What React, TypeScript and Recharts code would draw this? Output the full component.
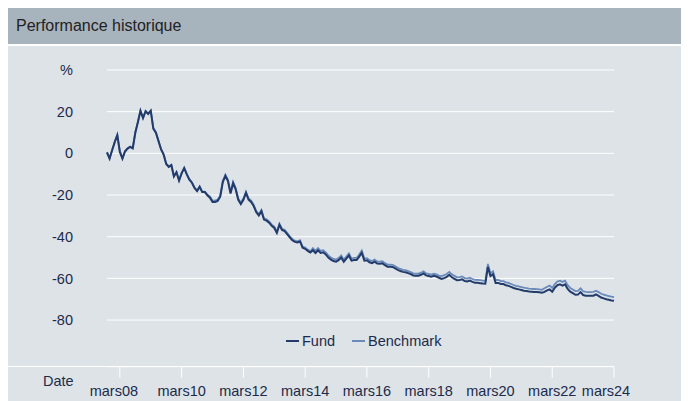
import { CartesianGrid, Legend, Line, LineChart, XAxis, YAxis } from "recharts"

// month index 0 = oct 2007, one value per month to mars 2024
const fund = [
  0.4, -2.5, 1.5, 5.4, 8.7, 0.7, -2.5, 0.9, 2.3, 3.1,
  2.4, 9.9, 14.9, 20.4, 16.9, 20.2, 18.9, 20.4, 11.9, 9.9,
  5.9, 1.9, -0.6, -5.1, -6.5, -5.7, -11.1, -9.1, -13.1, -9.6,
  -7.1, -10.1, -12.6, -14.1, -16.6, -18.1, -16.1, -18.6, -18.6, -20.1,
  -21.3, -23.3, -23.3, -22.8, -20.8, -13.8, -10.8, -13.3, -19.3, -14.3,
  -17.3, -22.3, -24.3, -22.3, -19.0, -22.2, -23.3, -25.3, -28.3, -29.8,
  -27.8, -31.8, -32.3, -33.3, -34.8, -35.8, -38.2, -34.3, -36.8, -37.3,
  -38.8, -40.3, -41.7, -42.5, -42.8, -42.3, -45.3, -45.8, -46.8, -47.6,
  -46.5, -47.8, -46.5, -47.8, -47.5, -48.5, -50.0, -51.0, -51.7, -52.0,
  -51.3, -50.0, -52.0, -50.5, -49.0, -51.5, -51.2, -51.2, -49.6, -47.7,
  -51.5, -51.3, -52.3, -52.7, -52.0, -52.9, -53.0, -52.8, -53.7, -54.4,
  -54.4, -54.5, -55.2, -55.9, -56.5, -56.9, -57.1, -57.5, -58.0, -58.6,
  -58.7, -58.7, -58.3, -57.6, -58.6, -58.9, -59.2, -58.8, -59.1, -59.7,
  -60.3, -59.9, -59.3, -58.3, -59.5, -60.2, -60.9, -60.8, -60.5, -61.3,
  -61.5, -61.1, -61.7, -62.1, -62.1, -62.3, -62.5, -62.6, -54.5, -58.9,
  -58.0, -62.2, -62.2, -62.7, -62.7, -63.3, -63.6, -64.1, -64.6, -65.0,
  -65.3, -65.6, -65.9, -66.1, -66.3, -66.4, -66.5, -66.6, -66.7, -66.9,
  -66.5, -65.8, -65.3, -66.4, -64.5, -63.3, -62.9, -63.5, -62.9, -65.1,
  -66.4, -67.1, -67.9, -67.8, -66.6, -68.0, -68.3, -68.4, -68.4, -68.3,
  -67.7, -68.4, -69.2, -69.6, -70.0, -70.3, -70.6, -70.8,
]

const benchmark = [
  0.6, -2.3, 1.7, 5.6, 8.9, 0.9, -2.3, 1.1, 2.5, 3.3,
  2.6, 10.1, 15.1, 20.6, 17.1, 20.4, 19.1, 20.6, 12.1, 10.1,
  6.1, 2.1, -0.4, -4.9, -6.3, -5.5, -10.9, -8.9, -12.9, -9.4,
  -6.9, -9.9, -12.4, -13.9, -16.4, -17.9, -15.9, -18.4, -18.4, -19.9,
  -20.7, -22.7, -22.7, -22.2, -20.2, -13.2, -10.2, -12.7, -18.7, -13.7,
  -16.7, -21.7, -23.7, -21.7, -18.4, -21.6, -22.7, -24.7, -27.7, -29.2,
  -27.2, -31.2, -31.7, -32.7, -34.2, -35.2, -37.6, -33.7, -36.2, -36.7,
  -38.2, -39.7, -41.1, -41.9, -42.2, -41.7, -44.7, -45.2, -46.2, -47.0,
  -45.5, -46.8, -45.5, -46.8, -46.5, -47.5, -49.0, -50.0, -50.7, -51.0,
  -50.3, -49.0, -51.0, -49.5, -48.0, -50.5, -50.2, -50.2, -48.6, -46.7,
  -50.5, -50.3, -51.3, -51.7, -51.0, -51.9, -52.0, -51.8, -52.7, -53.4,
  -53.4, -53.5, -54.2, -54.9, -55.5, -55.9, -56.1, -56.5, -57.0, -57.6,
  -57.7, -57.7, -57.3, -56.6, -57.6, -57.9, -58.2, -57.8, -58.1, -58.7,
  -58.9, -58.5, -57.9, -56.9, -58.1, -58.8, -59.5, -59.4, -59.1, -59.9,
  -60.1, -59.7, -60.3, -60.7, -60.7, -60.9, -61.1, -61.2, -53.1, -57.5,
  -56.6, -60.8, -60.8, -61.3, -61.3, -61.9, -62.2, -62.7, -63.2, -63.6,
  -63.9, -64.2, -64.5, -64.7, -64.9, -65.0, -65.1, -65.2, -65.3, -65.5,
  -64.7, -64.0, -63.5, -64.6, -62.7, -61.5, -61.1, -61.7, -61.1, -63.3,
  -64.6, -65.3, -66.1, -66.0, -64.8, -66.2, -66.5, -66.6, -66.6, -66.5,
  -65.9, -66.6, -67.4, -67.8, -68.2, -68.5, -68.8, -69.0,
]

const xTicks = [5, 29, 53, 77, 101, 125, 149, 173, 197]
const xLabels = ["mars08", "mars10", "mars12", "mars14", "mars16", "mars18", "mars20", "mars22", "mars24"]
const yTicks = [-80, -60, -40, -20, 0, 20, 40]

const data = fund.map((v, i) => ({ month: i, fund: v, benchmark: benchmark[i] }))

const FONT = '"Liberation Sans", Arial, sans-serif'
const TEXT = "#1c2b4b"
const FUND_COLOR = "#223b6b"
const BENCH_COLOR = "#6a8aba"

function XTick(props: any) {
  const { x, y, payload } = props
  const i = xTicks.indexOf(payload.value)
  const shift = i === 0 ? -6 : i === xTicks.length - 1 ? -8 : 0
  return (
    <text x={x + shift} y={y} dy="0.71em" textAnchor="middle" fill={TEXT} fontSize={14.5} fontFamily={FONT}>
      {xLabels[i]}
    </text>
  )
}

function LegendContent() {
  const icon = (color: string, ml: number) => (
    <span style={{ display: "inline-block", width: 13, height: 2, background: color, marginLeft: ml, marginRight: 3 }} />
  )
  return (
    <div style={{ display: "flex", alignItems: "center", fontFamily: FONT, fontSize: 14.5, color: TEXT, lineHeight: "18px", whiteSpace: "nowrap" }}>
      {icon(FUND_COLOR, 0)}Fund{icon(BENCH_COLOR, 17)}Benchmark
    </div>
  )
}

export default function App() {
  return (
    <div style={{ width: 681, fontFamily: FONT }}>
      <style>{"html,body{overflow:hidden}"}</style>
      <div style={{ height: 36, background: "#a7b3bd", color: "#222", fontSize: 16, lineHeight: "36px", paddingLeft: 8 }}>
        Performance historique
      </div>
      <div style={{ marginTop: 2, height: 360, background: "#dde3e7", position: "relative" }}>
        <LineChart width={681} height={355} data={data} margin={{ top: 24, right: 75, bottom: 5, left: 0 }}>
          <CartesianGrid vertical={false} stroke="#ffffff" strokeWidth={1} />
          <XAxis
            dataKey="month"
            type="number"
            domain={[0, 197]}
            ticks={xTicks}
            interval={0}
            axisLine={false}
            tickLine={{ stroke: "#ffffff" }}
            tickSize={11}
            tickMargin={8}
            height={29.3}
            tick={<XTick />}
          />
          <YAxis
            type="number"
            domain={[-102.4, 40]}
            allowDataOverflow
            ticks={yTicks}
            interval={0}
            width={99}
            axisLine={false}
            tickLine={false}
            tickSize={6}
            tickMargin={28}
            tick={{ fill: TEXT, fontSize: 14.5, fontFamily: FONT }}
            tickFormatter={(v: number) => (v === 40 ? "%" : String(v))}
          />
          <Legend
            layout="horizontal"
            verticalAlign="middle"
            align="center"
            content={<LegendContent />}
            wrapperStyle={{ left: 278, top: 286, width: "auto" }}
          />
          <Line type="linear" dataKey="benchmark" stroke={BENCH_COLOR} strokeWidth={1.8} dot={false} isAnimationActive={false} />
          <Line type="linear" dataKey="fund" stroke={FUND_COLOR} strokeWidth={2} dot={false} isAnimationActive={false} />
        </LineChart>
        <div style={{ position: "absolute", left: 0, top: 320, width: 606, height: 1, background: "#ffffff" }} />
        <div style={{ position: "absolute", left: 35, top: 326, fontSize: 14.5, color: TEXT, lineHeight: "18px" }}>Date</div>
      </div>
    </div>
  )
}
